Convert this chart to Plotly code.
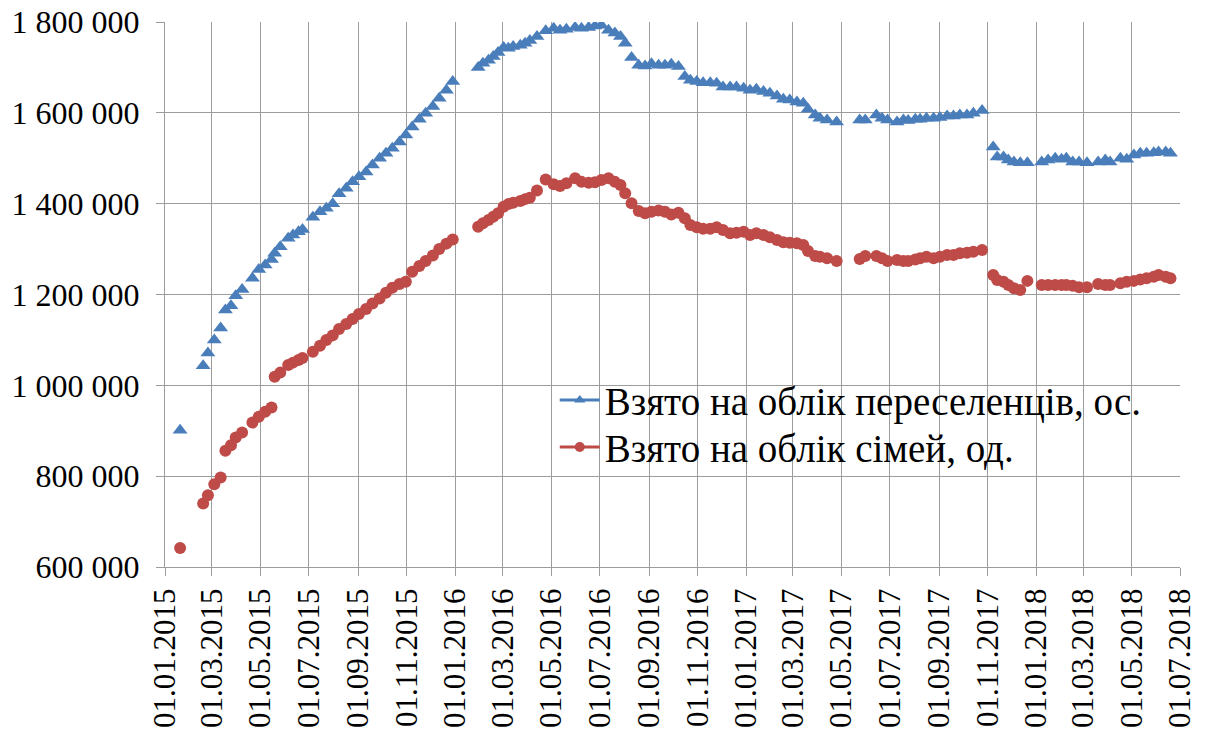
import plotly.graph_objects as go

dates = [
    "2015-01-20",
    "2015-02-18", "2015-02-24", "2015-03-04", "2015-03-12", "2015-03-18", "2015-03-25", "2015-03-31",
    "2015-04-08", "2015-04-21", "2015-04-29", "2015-05-07", "2015-05-15", "2015-05-19", "2015-05-26",
    "2015-06-05", "2015-06-11", "2015-06-18", "2015-06-23", "2015-07-06", "2015-07-15", "2015-07-23",
    "2015-07-31", "2015-08-08", "2015-08-17", "2015-08-25", "2015-09-02", "2015-09-11", "2015-09-19",
    "2015-09-28", "2015-10-06", "2015-10-14", "2015-10-23", "2015-10-31", "2015-11-08", "2015-11-17",
    "2015-11-25", "2015-12-04", "2015-12-12", "2015-12-21", "2015-12-29",
    "2016-01-30", "2016-02-05", "2016-02-12", "2016-02-18", "2016-02-24", "2016-03-02", "2016-03-08",
    "2016-03-14", "2016-03-23", "2016-03-29", "2016-04-04", "2016-04-13", "2016-04-24", "2016-05-04",
    "2016-05-12", "2016-05-20", "2016-05-31", "2016-06-08", "2016-06-17", "2016-06-25", "2016-07-03",
    "2016-07-12", "2016-07-20", "2016-07-27", "2016-08-02", "2016-08-10", "2016-08-19", "2016-08-27",
    "2016-09-04", "2016-09-13", "2016-09-21", "2016-09-29", "2016-10-08", "2016-10-16", "2016-10-23",
    "2016-10-31", "2016-11-08", "2016-11-17", "2016-11-25", "2016-12-03", "2016-12-12", "2016-12-20",
    "2016-12-29",
    "2017-01-06", "2017-01-14", "2017-01-23", "2017-01-31", "2017-02-09", "2017-02-17", "2017-02-25",
    "2017-03-06", "2017-03-14", "2017-03-20", "2017-03-29", "2017-04-04", "2017-04-13", "2017-04-25",
    "2017-05-24", "2017-05-31", "2017-06-14", "2017-06-21", "2017-06-28", "2017-07-10", "2017-07-18",
    "2017-07-24", "2017-08-02", "2017-08-08", "2017-08-16", "2017-08-25", "2017-09-02", "2017-09-11",
    "2017-09-19", "2017-09-27", "2017-10-06", "2017-10-14", "2017-10-25", "2017-11-08", "2017-11-13",
    "2017-11-21", "2017-11-27", "2017-12-04", "2017-12-12", "2017-12-21",
    "2018-01-08", "2018-01-16", "2018-01-25", "2018-02-02", "2018-02-08", "2018-02-16", "2018-02-24",
    "2018-03-06", "2018-03-20", "2018-03-29", "2018-04-04", "2018-04-17", "2018-04-25", "2018-05-04",
    "2018-05-12", "2018-05-20", "2018-05-29", "2018-06-04", "2018-06-13", "2018-06-19",
]

persons = [
    901000,
    1043000, 1071000, 1100000, 1126000, 1166000, 1175000, 1197000,
    1211000, 1236000, 1255000, 1265000, 1277000, 1291000, 1305000,
    1324000, 1331000, 1338000, 1343000, 1370000, 1382000, 1390000,
    1400000, 1422000, 1434000, 1448000, 1459000, 1470000, 1485000,
    1500000, 1511000, 1522000, 1536000, 1551000, 1569000, 1586000,
    1599000, 1614000, 1632000, 1650000, 1669000,
    1700000, 1709000, 1716000, 1724000, 1733000, 1744000, 1742000,
    1746000, 1749000, 1753000, 1759000, 1768000, 1781000, 1786000,
    1782000, 1784000, 1788000, 1786000, 1788000, 1791000, 1793000,
    1782000, 1776000, 1768000, 1753000, 1722000, 1705000, 1703000,
    1708000, 1705000, 1705000, 1707000, 1702000, 1680000, 1672000,
    1669000, 1666000, 1666000, 1665000, 1657000, 1657000, 1657000,
    1654000,
    1650000, 1652000, 1647000, 1643000, 1637000, 1630000, 1628000,
    1624000, 1621000, 1608000, 1595000, 1588000, 1584000, 1580000,
    1584000, 1584000, 1595000, 1588000, 1584000, 1580000, 1584000,
    1583000, 1586000, 1586000, 1588000, 1588000, 1590000, 1593000,
    1593000, 1595000, 1595000, 1599000, 1605000, 1525000, 1503000,
    1503000, 1496000, 1492000, 1490000, 1490000,
    1492000, 1496000, 1500000, 1498000, 1500000, 1492000, 1492000,
    1490000, 1492000, 1496000, 1492000, 1500000, 1498000, 1507000,
    1511000, 1511000, 1512000, 1514000, 1514000, 1511000,
]

families = [
    642000,
    740000, 758000, 782000, 797000, 856000, 868000, 885000,
    896000, 918000, 931000, 942000, 951000, 1019000, 1028000,
    1045000, 1050000, 1056000, 1060000, 1074000, 1087000, 1100000,
    1110000, 1124000, 1135000, 1146000, 1157000, 1168000, 1180000,
    1191000, 1204000, 1215000, 1223000, 1228000, 1250000, 1263000,
    1274000, 1286000, 1300000, 1312000, 1321000,
    1349000, 1357000, 1364000, 1371000, 1379000, 1393000, 1399000,
    1402000, 1406000, 1410000, 1413000, 1429000, 1453000, 1443000,
    1439000, 1445000, 1456000, 1448000, 1446000, 1447000, 1452000,
    1456000, 1448000, 1441000, 1423000, 1401000, 1384000, 1379000,
    1382000, 1385000, 1382000, 1376000, 1380000, 1368000, 1353000,
    1348000, 1345000, 1345000, 1348000, 1342000, 1335000, 1336000,
    1338000,
    1331000, 1335000, 1331000, 1326000, 1320000, 1315000, 1314000,
    1313000, 1309000, 1296000, 1285000, 1283000, 1280000, 1274000,
    1278000, 1285000, 1285000, 1280000, 1274000, 1276000, 1274000,
    1274000, 1277000, 1280000, 1283000, 1280000, 1283000, 1287000,
    1287000, 1291000, 1292000, 1294000, 1298000, 1243000, 1232000,
    1228000, 1221000, 1214000, 1210000, 1230000,
    1221000, 1221000, 1221000, 1221000, 1221000, 1219000, 1216000,
    1216000, 1223000, 1221000, 1221000, 1225000, 1228000, 1230000,
    1233000, 1236000, 1239000, 1243000, 1239000, 1236000,
]

series_names = ["Взято на облік переселенців, ос.", "Взято на облік сімей, од."]

x_tick_dates = [
    "2015-01-01", "2015-03-01", "2015-05-01", "2015-07-01", "2015-09-01", "2015-11-01",
    "2016-01-01", "2016-03-01", "2016-05-01", "2016-07-01", "2016-09-01", "2016-11-01",
    "2017-01-01", "2017-03-01", "2017-05-01", "2017-07-01", "2017-09-01", "2017-11-01",
    "2018-01-01", "2018-03-01", "2018-05-01", "2018-07-01",
]
x_tick_labels = [
    "01.01.2015", "01.03.2015", "01.05.2015", "01.07.2015", "01.09.2015", "01.11.2015",
    "01.01.2016", "01.03.2016", "01.05.2016", "01.07.2016", "01.09.2016", "01.11.2016",
    "01.01.2017", "01.03.2017", "01.05.2017", "01.07.2017", "01.09.2017", "01.11.2017",
    "01.01.2018", "01.03.2018", "01.05.2018", "01.07.2018",
]
y_tick_vals = [600000, 800000, 1000000, 1200000, 1400000, 1600000, 1800000]
y_tick_labels = ["600 000", "800 000", "1 000 000", "1 200 000", "1 400 000", "1 600 000", "1 800 000"]

BLUE = "#4A7EBB"
RED = "#BE4B48"
GRID = "#9C9C9C"
FONT = "Liberation Serif"

fig = go.Figure()
fig.add_trace(go.Scatter(x=dates, y=persons, mode="markers", showlegend=False,
                         marker=dict(symbol="triangle-up", size=13, color=BLUE)))
fig.add_trace(go.Scatter(x=dates, y=families, mode="markers", showlegend=False,
                         marker=dict(symbol="circle", size=12, color=RED)))
# legend entries (line + marker, as in the original), one legend box per row
fig.add_trace(go.Scatter(x=[None], y=[None], mode="lines+markers", name=series_names[0],
                         legend="legend",
                         line=dict(color=BLUE, width=3),
                         marker=dict(symbol="triangle-up", size=10, color=BLUE)))
fig.add_trace(go.Scatter(x=[None], y=[None], mode="lines+markers", name=series_names[1],
                         legend="legend2",
                         line=dict(color=RED, width=3),
                         marker=dict(symbol="circle", size=10, color=RED)))

legend_common = dict(xanchor="left", yanchor="middle", bgcolor="rgba(0,0,0,0)",
                     font=dict(family=FONT, size=39, color="black"), itemwidth=40)

fig.update_layout(
    width=1205, height=742,
    margin=dict(l=165, r=25, t=22, b=175),
    paper_bgcolor="white", plot_bgcolor="white",
    font=dict(family=FONT, size=32, color="black"),
    legend=dict(x=0.384, y=0.306, **legend_common),
    legend2=dict(x=0.384, y=0.220, **legend_common),
)
fig.update_xaxes(
    type="date", range=["2015-01-01", "2018-07-01"],
    tickmode="array", tickvals=x_tick_dates, ticktext=x_tick_labels,
    tickangle=-90, showgrid=True, gridcolor=GRID, gridwidth=1.3,
    showline=True, linecolor=GRID, linewidth=1.3,
    ticks="outside", ticklen=8, tickcolor=GRID, tickwidth=1.3,
    tickfont=dict(family=FONT, size=31, color="black"),
    zeroline=False, automargin=False, ticklabeloverflow="allow",
)
fig.update_yaxes(
    range=[600000, 1800000],
    tickmode="array", tickvals=y_tick_vals, ticktext=y_tick_labels,
    showgrid=True, gridcolor=GRID, gridwidth=1.3,
    showline=True, linecolor=GRID, linewidth=1.3,
    ticks="outside", ticklen=8, tickcolor=GRID, tickwidth=1.3,
    tickfont=dict(family=FONT, size=32, color="black"), ticklabelstandoff=10,
    zeroline=False, automargin=False, ticklabeloverflow="allow",
)

fig.write_html("out.html", config={"displayModeBar": False},
               post_script="document.body.style.margin='0';")
